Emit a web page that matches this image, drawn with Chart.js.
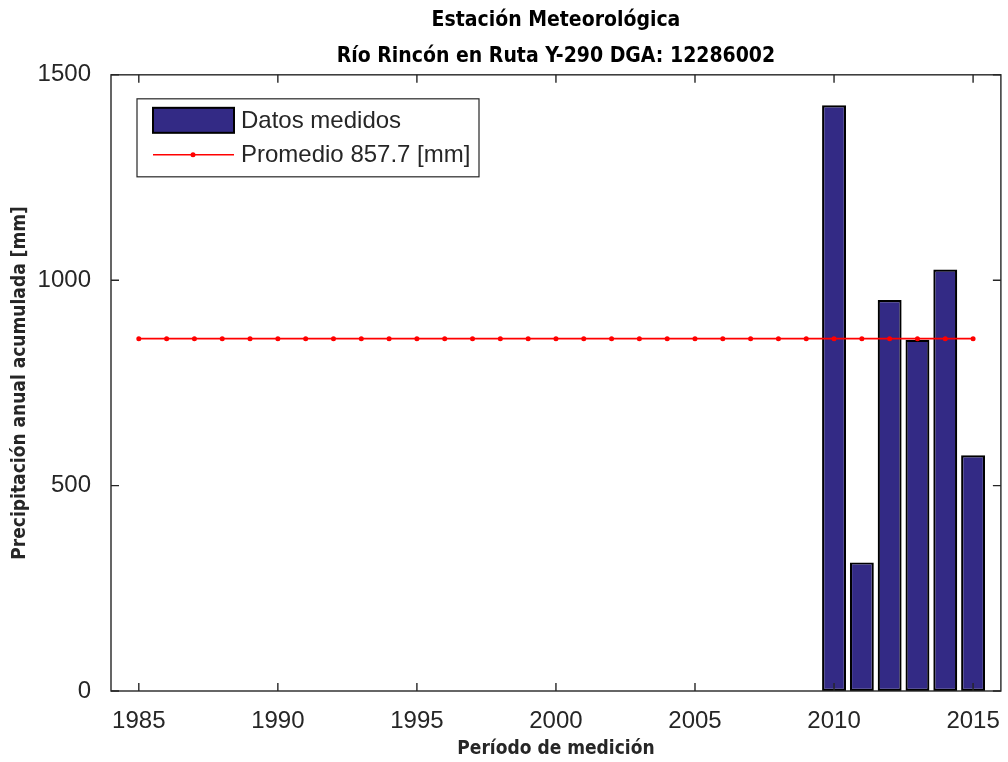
<!DOCTYPE html>
<html>
<head>
<meta charset="utf-8">
<script src="https://cdn.jsdelivr.net/npm/chart.js@4"></script>
<style>
  html, body { margin: 0; padding: 0; background: #fff; }
  #wrap { width: 1008px; height: 762px; }
</style>
</head>
<body>
<div id="wrap"><canvas id="precip-chart" width="1008" height="762"></canvas></div>
<script>
// data
const barYears = [2010, 2011, 2012, 2013, 2014, 2015]
const barValues = [1426, 313, 952, 855, 1026, 574]
const avgYears = [1985, 1986, 1987, 1988, 1989, 1990, 1991, 1992, 1993, 1994, 1995,
                  1996, 1997, 1998, 1999, 2000, 2001, 2002, 2003, 2004, 2005,
                  2006, 2007, 2008, 2009, 2010, 2011, 2012, 2013, 2014, 2015]
const promedio = 857.7
const xTicks = [1985, 1990, 1995, 2000, 2005, 2010, 2015]
const yTicks = [0, 500, 1000, 1500]

const axisColor = '#262626'
const tickFont = { family: "'Liberation Sans', Arial, sans-serif", size: 24 }
const boldNarrow = "'Liberation Sans Narrow', 'DejaVu Sans Condensed', 'Liberation Sans', sans-serif"

// matlab style box, inward ticks and legend inside the axes
const matlabFrame = {
    id: 'matlabFrame',
    afterDraw(chart) {
        const ctx = chart.ctx
        const a = chart.chartArea
        const xs = chart.scales.x
        const ys = chart.scales.y
        ctx.save()
        ctx.strokeStyle = axisColor
        ctx.lineWidth = 1.4
        ctx.strokeRect(a.left, a.top, a.right - a.left, a.bottom - a.top)
        ctx.beginPath()
        xs.ticks.forEach(function(t) {
            let px = xs.getPixelForValue(t.value)
            ctx.moveTo(px, a.bottom); ctx.lineTo(px, a.bottom - 8)
            ctx.moveTo(px, a.top); ctx.lineTo(px, a.top + 8)
        })
        ys.ticks.forEach(function(t) {
            let py = ys.getPixelForValue(t.value)
            ctx.moveTo(a.left, py); ctx.lineTo(a.left + 8, py)
            ctx.moveTo(a.right, py); ctx.lineTo(a.right - 8, py)
        })
        ctx.stroke()

        // legend
        const bars = chart.data.datasets[1]
        const line = chart.data.datasets[0]
        let lx = a.left + 26, ly = a.top + 24
        ctx.fillStyle = '#fff'
        ctx.fillRect(lx, ly, 342, 78)
        ctx.lineWidth = 1.2
        ctx.strokeRect(lx, ly, 342, 78)
        ctx.fillStyle = bars.backgroundColor
        ctx.fillRect(lx + 16, ly + 9, 81, 25)
        ctx.lineWidth = 2
        ctx.strokeStyle = '#000'
        ctx.strokeRect(lx + 16, ly + 9, 81, 25)
        ctx.lineWidth = 1.6
        ctx.strokeStyle = line.borderColor
        ctx.beginPath()
        ctx.moveTo(lx + 16, ly + 56); ctx.lineTo(lx + 97, ly + 56)
        ctx.stroke()
        ctx.fillStyle = line.borderColor
        ctx.beginPath()
        ctx.arc(lx + 56, ly + 56, 2.5, 0, Math.PI * 2)
        ctx.fill()
        ctx.fillStyle = axisColor
        ctx.font = "24px 'Liberation Sans', Arial, sans-serif"
        ctx.textBaseline = 'middle'
        ctx.fillText(bars.label, lx + 104, ly + 23)
        ctx.fillText(line.label, lx + 104, ly + 57)
        ctx.restore()
    }
}

let canvas = document.querySelector('#precip-chart')
let context = canvas.getContext('2d')

let chart = new Chart(context, {
    type: 'bar',
    data: {
        datasets: [{
            type: 'line',
            label: 'Promedio ' + promedio + ' [mm]',
            data: avgYears.map(function(yr) { return { x: yr, y: promedio } }),
            borderColor: '#ff0000',
            backgroundColor: '#ff0000',
            borderWidth: 1.6,
            pointRadius: 2.5,
            pointBorderWidth: 0,
            pointBackgroundColor: '#ff0000',
            order: 0
        }, {
            type: 'bar',
            label: 'Datos medidos',
            data: barYears.map(function(yr, i) { return { x: yr, y: barValues[i] } }),
            backgroundColor: '#332a85',
            borderColor: '#000',
            borderWidth: 2.2,
            borderSkipped: false,
            barPercentage: 0.86,
            categoryPercentage: 1.0,
            order: 1
        }]
    },
    options: {
        responsive: false,
        animation: false,
        layout: { padding: { right: 4 } },
        plugins: {
            legend: { display: false },
            tooltip: { enabled: false },
            title: {
                display: true,
                fullSize: false,
                text: ['Estación Meteorológica', 'Río Rincón en Ruta Y-290 DGA: 12286002'],
                color: '#000',
                font: { family: boldNarrow, size: 21, weight: 'bold', lineHeight: 1.71 },
                padding: { top: 3, bottom: 0 }
            }
        },
        scales: {
            x: {
                type: 'linear',
                offset: false,
                min: 1984,
                max: 2016,
                grid: { display: false, offset: false },
                border: { display: false },
                ticks: {
                    color: axisColor,
                    font: tickFont,
                    padding: 8,
                    maxRotation: 0,
                    callback: function(v) { return String(v) }
                },
                afterBuildTicks: function(scale) { scale.ticks = xTicks.map(function(v) { return { value: v } }) },
                afterFit: function(scale) { scale.height = 71 },
                title: {
                    display: true,
                    text: 'Período de medición',
                    color: axisColor,
                    font: { family: boldNarrow, size: 19, weight: 'bold', lineHeight: 1.2 },
                    padding: { top: 0, bottom: 2 }
                }
            },
            y: {
                min: 0,
                max: 1500,
                grid: { display: false },
                border: { display: false },
                ticks: {
                    color: axisColor,
                    font: tickFont,
                    padding: 12,
                    callback: function(v) { return String(v) }
                },
                afterBuildTicks: function(scale) { scale.ticks = yTicks.map(function(v) { return { value: v } }) },
                afterFit: function(scale) { scale.width = 111 },
                title: {
                    display: true,
                    text: 'Precipitación anual acumulada [mm]',
                    color: axisColor,
                    font: { family: boldNarrow, size: 19, weight: 'bold', lineHeight: 1.2 },
                    padding: { top: 9, bottom: 0 }
                }
            }
        }
    },
    plugins: [matlabFrame]
})
</script>
</body>
</html>
